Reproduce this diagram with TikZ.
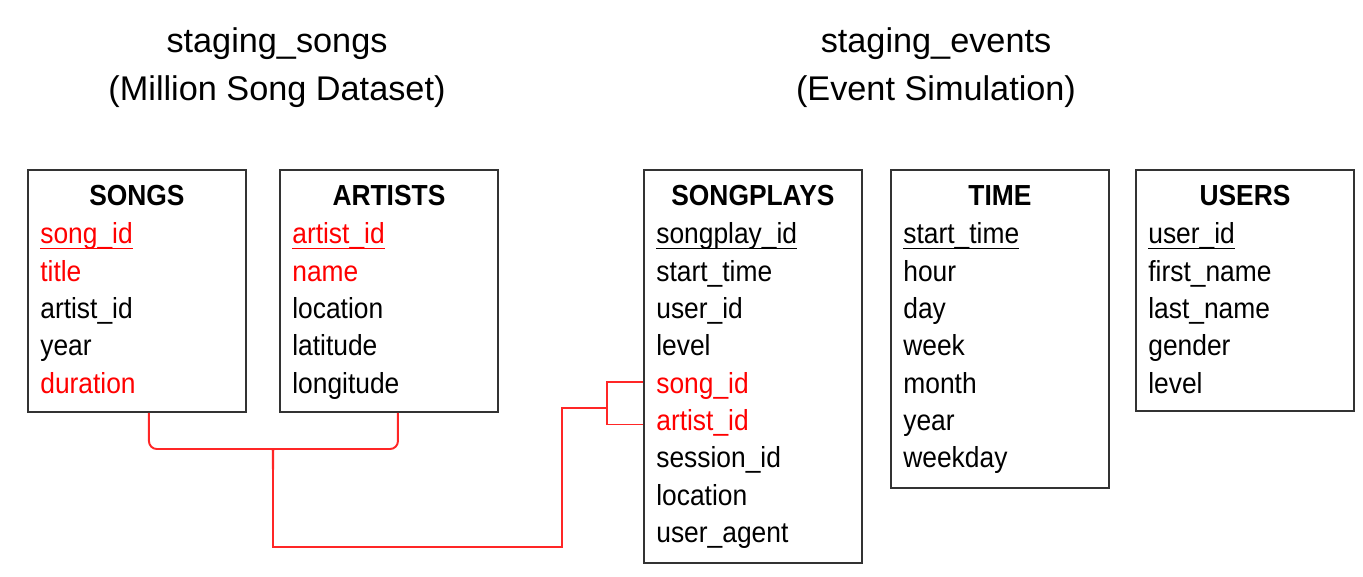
\documentclass[tikz,border=0pt]{standalone}
\usepackage{fontspec}
\setmainfont{Liberation Sans}
\newfontfamily\tblfont{Liberation Sans}[FakeStretch=0.91]
\usepackage{tikz}
\usetikzlibrary{calc}
% primary key: underlined field
\newcommand\pkey[1]{\setbox0\hbox{#1}\rlap{\rule[-3pt]{\wd0}{1pt}}\box0}
\tikzset{
  tbl/.style={draw=black!80, line width=1.1pt, anchor=north west, minimum width=4.36cm, inner sep=0pt},
  ttl/.style={font=\fontsize{19.5}{23}\selectfont, anchor=base},
  hdr/.style={font=\tblfont\fontsize{16.5}{20}\selectfont\bfseries, text height=16pt, text depth=3.5pt, inner sep=0pt},
  fld/.style={font=\tblfont\fontsize{16.5}{20}\selectfont, anchor=west, text height=16pt, text depth=3.5pt, inner sep=0pt},
  link/.style={red!85!white, line width=1.1pt},
}
\begin{document}
\begin{tikzpicture}[x=0.02cm, y=-0.02cm]
  \useasboundingbox (0,0) rectangle (1363,576);
  % Source titles
  \node[ttl] (ss-name) at (277,52) {staging\_songs};
  \node[ttl] (ss-src) at (277,100) {(Million Song Dataset)};
  \node[ttl] (se-name) at (936,52) {staging\_events};
  \node[ttl] (se-src) at (936,100) {(Event Simulation)};
  % Tables from staging_songs
  \node[tbl, minimum height=4.84cm] (songs) at (27,169) {};
  \node[hdr] (songs-h) at ($(songs.north)+(0,26)$) {SONGS};
  \foreach \f [count=\i] in {\color{red}\pkey{song\_id}, \color{red}title, artist\_id, year, \color{red}duration}
    \node[fld] (songs-\i) at ($(songs.north west)+(13,{64+37.3*(\i-1)})$) {\f};
  \node[tbl, minimum height=4.84cm] (artists) at (279,169) {};
  \node[hdr] (artists-h) at ($(artists.north)+(0,26)$) {ARTISTS};
  \foreach \f [count=\i] in {\color{red}\pkey{artist\_id}, \color{red}name, location, latitude, longitude}
    \node[fld] (artists-\i) at ($(artists.north west)+(13,{64+37.3*(\i-1)})$) {\f};
  % Tables from staging_events
  \node[tbl, minimum height=7.86cm] (sp) at (643,169) {};
  \node[hdr] (sp-h) at ($(sp.north)+(0,26)$) {SONGPLAYS};
  \foreach \f [count=\i] in {\pkey{songplay\_id}, start\_time, user\_id, level, \color{red}song\_id, \color{red}artist\_id, session\_id, location, user\_agent}
    \node[fld] (sp-\i) at ($(sp.north west)+(13,{64+37.3*(\i-1)})$) {\f};
  \node[tbl, minimum height=6.36cm] (time) at (890,169) {};
  \node[hdr] (time-h) at ($(time.north)+(0,26)$) {TIME};
  \foreach \f [count=\i] in {\pkey{start\_time}, hour, day, week, month, year, weekday}
    \node[fld] (time-\i) at ($(time.north west)+(13,{64+37.3*(\i-1)})$) {\f};
  \node[tbl, minimum height=4.82cm] (users) at (1135,169) {};
  \node[hdr] (users-h) at ($(users.north)+(0,26)$) {USERS};
  \foreach \f [count=\i] in {\pkey{user\_id}, first\_name, last\_name, gender, level}
    \node[fld] (users-\i) at ($(users.north west)+(13,{64+37.3*(\i-1)})$) {\f};
  % Brace joining songs and artists, then link to songplays
  \coordinate (tip) at (273,475);
  \coordinate (low) at (562,547);
  \coordinate (fork) at (607,408);
  \draw[link, rounded corners=4.5pt] ($(songs.south)+(12,0)$) |- ($(tip)+(-7,-26)$)
    .. controls ($(tip)+(-1,-26)$) and ($(tip)+(0,-18)$) .. (tip);
  \draw[link, rounded corners=4.5pt] ($(artists.south)+(9,0)$) |- ($(tip)+(7,-26)$)
    .. controls ($(tip)+(1,-26)$) and ($(tip)+(0,-18)$) .. (tip);
  \draw[link] (tip) |- (low) |- (fork);
  \draw[link] (sp.west |- sp-5.west) -| (fork) |- ($(sp.west |- sp-6.west)+(0,5)$);
\end{tikzpicture}
\end{document}
